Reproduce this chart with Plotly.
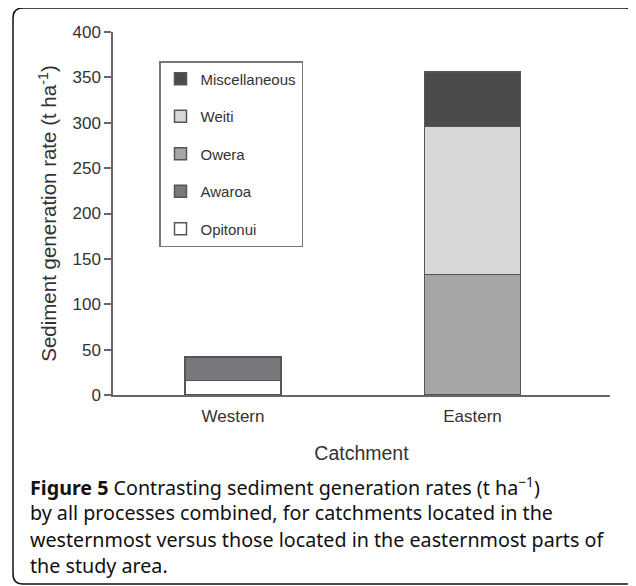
import plotly.graph_objects as go

categories = ["Western", "Eastern"]
series_names = ["Opitonui", "Awaroa", "Owera", "Weiti", "Miscellaneous"]
opitonui = [16, 0]
awaroa = [26, 0]
owera = [0, 133]
weiti = [0, 163]
miscellaneous = [0, 60]
series_values = [opitonui, awaroa, owera, weiti, miscellaneous]
series_colors = ["#ffffff", "#77787b", "#a5a6a8", "#d6d7d9", "#4a4b4d"]
y_ticks = [0, 50, 100, 150, 200, 250, 300, 350, 400]

# page body has an 8px margin; layout computed in screen pixels
OFF = 8
W, H = 636 - OFF, 586 - OFF
PL, PR, PT, PB = 113, 610, 32, 395  # plot area in screen px
PW, PH = PR - PL, PB - PT
L, T = PL - OFF, PT - OFF
R, B = W - L - PW, H - T - PH


def px(x):
    return (x - PL) / PW


def py(y):
    return (PB - y) / PH


fig = go.Figure()
n = len(series_names)
for i, (name, vals, col) in enumerate(zip(series_names, series_values, series_colors)):
    fig.add_trace(go.Bar(
        x=categories, y=vals, name=name, legendgroup=name, legendrank=n - i,
        marker=dict(color=col, line=dict(color="#555557", width=1.5)),
        width=0.40,
    ))

xr = [-0.501, 1.574]
fig.update_layout(
    width=W, height=H,
    margin=dict(l=L, r=R, t=T, b=B, autoexpand=False),
    barmode="stack",
    plot_bgcolor="white", paper_bgcolor="white",
    font=dict(family="Liberation Sans, Arial, sans-serif", color="#333333"),
    showlegend=True,
    legend=dict(
        x=px(159), y=py(61), xanchor="left", yanchor="top",
        traceorder="grouped", tracegroupgap=15,
        bordercolor="#777777", borderwidth=1.5,
        font=dict(size=15, color="#333333"),
        bgcolor="white", itemclick=False,
    ),
    xaxis=dict(
        type="category", range=xr, showline=True, linecolor="#666666", linewidth=1.5,
        ticks="", showgrid=False, zeroline=False, ticklabelstandoff=5,
        tickfont=dict(size=17, color="#333333"),
        title=dict(text="Catchment", font=dict(size=19.5, color="#333333"), standoff=21),
    ),
    xaxis2=dict(
        overlaying="x", anchor="y", side="bottom", type="linear", range=xr,
        tickvals=[-0.501, 0.534, 1.574], ticks="outside", ticklen=6, tickwidth=1.5,
        tickcolor="#666666", showticklabels=False, showline=False, showgrid=False,
        zeroline=False,
    ),
    yaxis=dict(
        range=[0, 400], tickvals=y_ticks, ticks="outside", ticklen=7, tickwidth=1.5,
        tickcolor="#666666", showline=True, linecolor="#666666", linewidth=1.5,
        showgrid=False, zeroline=False, tickfont=dict(size=17, color="#333333"),
        title=dict(text="Sediment generation rate (t ha<sup>-1</sup>)",
                   font=dict(size=20.5, color="#333333"), standoff=10),
    ),
)

# rounded outer frame
l, r, t, b, rad = px(13), px(635), py(8), py(584), 10
rx, ry = rad / PW, rad / PH
path = (f"M{l+rx},{t} L{r-rx},{t} Q{r},{t} {r},{t-ry} L{r},{b+ry} Q{r},{b} {r-rx},{b} "
        f"L{l+rx},{b} Q{l},{b} {l},{b+ry} L{l},{t-ry} Q{l},{t} {l+rx},{t} Z")
fig.add_shape(type="path", path=path, xref="paper", yref="paper",
              line=dict(color="#111111", width=1.5))

caption = [
    "<b>Figure 5</b> Contrasting sediment generation rates (t ha<sup>−1</sup>)",
    "by all processes combined, for catchments located in the",
    "westernmost versus those located in the easternmost parts of",
    "the study area.",
]
for i, line in enumerate(caption):
    fig.add_annotation(text=line, xref="paper", yref="paper", x=px(28), y=py(486 + i * 26.5),
                       xanchor="left", yanchor="middle", showarrow=False,
                       font=dict(family="Noto Sans, Open Sans, sans-serif", size=19.7, color="#111111"))

fig.write_html("out.html")
